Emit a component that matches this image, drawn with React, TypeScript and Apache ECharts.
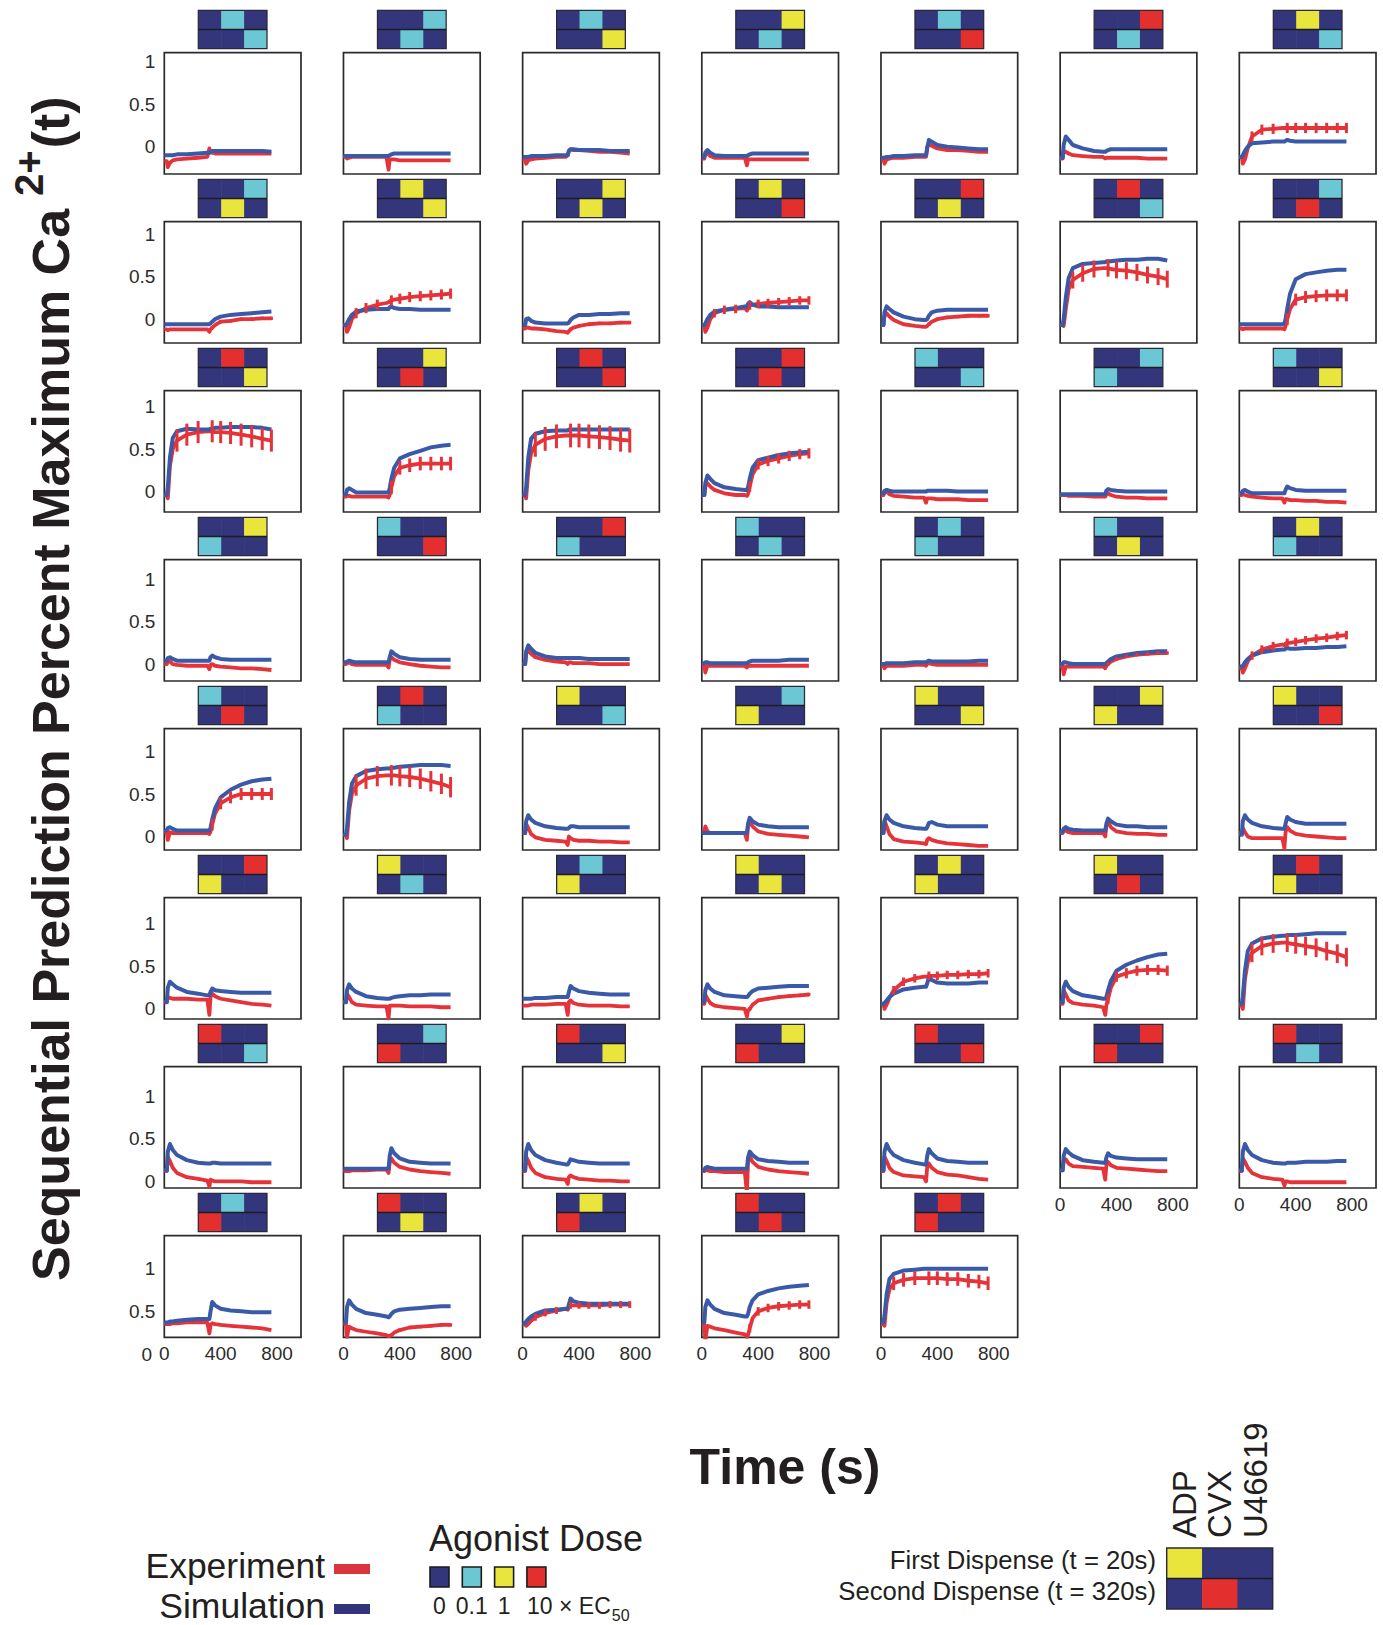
import React, { useEffect, useRef } from "react";
import * as echarts from "echarts";

// ---------------- DATA ----------------
// sample times (s) shared by every trace
const T = [0, 18, 25, 40, 60, 90, 160, 240, 305, 320, 328, 340, 360, 400, 470, 545, 620, 695, 760];
// indices of T where the experimental trace carries an error bar
const ERR_IDX = [5, 6, 7, 11, 13, 14, 15, 16, 17, 18];
const X_TICKS = [0, 400, 800];
const Y_TICKS = [0, 0.5, 1];
const AGONISTS = ["ADP", "CVX", "U46619"];
const DOSE_TEXT = ["0", "0.1", "1"];

// dose level (0: none, 1: 0.1, 2: 1, 3: 10 x EC50) for [ADP, CVX, U46619]
const FIRST_DOSE = [
  [0,1,0],[0,0,1],[0,1,0],[0,0,2],[0,1,0],[0,0,3],[0,2,0],
  [0,0,1],[0,2,0],[0,0,2],[0,2,0],[0,0,3],[0,3,0],[0,0,1],
  [0,3,0],[0,0,2],[0,3,0],[0,0,3],[1,0,0],[0,0,1],[1,0,0],
  [0,0,2],[1,0,0],[0,0,3],[1,0,0],[0,1,0],[1,0,0],[0,2,0],
  [1,0,0],[0,3,0],[2,0,0],[0,0,1],[2,0,0],[0,0,2],[2,0,0],
  [0,0,3],[2,0,0],[0,1,0],[2,0,0],[0,2,0],[2,0,0],[0,3,0],
  [3,0,0],[0,0,1],[3,0,0],[0,0,2],[3,0,0],[0,0,3],[3,0,0],
  [0,1,0],[3,0,0],[0,2,0],[3,0,0],[0,3,0],
];
const SECOND_DOSE = [
  [0,0,1],[0,1,0],[0,0,2],[0,1,0],[0,0,3],[0,1,0],[0,0,1],
  [0,2,0],[0,0,2],[0,2,0],[0,0,3],[0,2,0],[0,0,1],[0,3,0],
  [0,0,2],[0,3,0],[0,0,3],[0,3,0],[0,0,1],[1,0,0],[0,0,2],
  [1,0,0],[0,0,3],[1,0,0],[0,1,0],[1,0,0],[0,2,0],[1,0,0],
  [0,3,0],[1,0,0],[0,0,1],[2,0,0],[0,0,2],[2,0,0],[0,0,3],
  [2,0,0],[0,1,0],[2,0,0],[0,2,0],[2,0,0],[0,3,0],[2,0,0],
  [0,0,1],[3,0,0],[0,0,2],[3,0,0],[0,0,3],[3,0,0],[0,1,0],
  [3,0,0],[0,2,0],[3,0,0],[0,3,0],[3,0,0],
];

const SIM_R1 = [
  [-0.1,-0.1,-0.1,-0.1,-0.1,-0.09,-0.09,-0.08,-0.07,-0.07,-0.06,-0.05,-0.05,-0.05,-0.05,-0.05,-0.05,-0.05,-0.06],
  [-0.11,-0.11,-0.11,-0.11,-0.11,-0.11,-0.11,-0.11,-0.11,-0.11,-0.1,-0.09,-0.08,-0.08,-0.08,-0.08,-0.08,-0.08,-0.08],
  [-0.12,-0.12,-0.12,-0.12,-0.11,-0.11,-0.11,-0.1,-0.1,-0.1,-0.05,-0.03,-0.03,-0.04,-0.04,-0.04,-0.05,-0.05,-0.05],
  [-0.12,-0.12,-0.07,-0.04,-0.07,-0.1,-0.11,-0.11,-0.11,-0.11,-0.1,-0.09,-0.08,-0.08,-0.08,-0.08,-0.08,-0.08,-0.08],
  [-0.13,-0.13,-0.13,-0.12,-0.12,-0.11,-0.11,-0.1,-0.1,-0.1,-0.02,0.08,0.06,0.02,0,-0.01,-0.02,-0.03,-0.03],
  [-0.13,-0.13,0.02,0.12,0.08,0.02,-0.02,-0.05,-0.06,-0.06,-0.05,-0.04,-0.03,-0.03,-0.03,-0.03,-0.03,-0.03,-0.03],
  [-0.12,-0.12,-0.1,-0.05,0,0.04,0.05,0.06,0.06,0.06,0.07,0.08,0.07,0.06,0.06,0.06,0.06,0.06,0.06],
];
const EXP_R1 = [
  [-0.17,-0.17,-0.24,-0.19,-0.16,-0.15,-0.14,-0.13,-0.12,-0.02,-0.07,-0.07,-0.08,-0.08,-0.08,-0.08,-0.08,-0.08,-0.08],
  [-0.12,-0.12,-0.14,-0.13,-0.12,-0.12,-0.12,-0.12,-0.12,-0.27,-0.15,-0.15,-0.15,-0.16,-0.16,-0.16,-0.16,-0.16,-0.16],
  [-0.15,-0.15,-0.2,-0.16,-0.15,-0.14,-0.13,-0.12,-0.12,-0.1,-0.05,-0.03,-0.04,-0.04,-0.05,-0.06,-0.06,-0.07,-0.08],
  [-0.14,-0.14,-0.08,-0.08,-0.11,-0.13,-0.13,-0.13,-0.13,-0.22,-0.15,-0.15,-0.15,-0.15,-0.15,-0.15,-0.15,-0.15,-0.15],
  [-0.14,-0.14,-0.2,-0.15,-0.14,-0.13,-0.13,-0.12,-0.12,-0.12,0,0.03,0.01,-0.02,-0.04,-0.04,-0.05,-0.06,-0.06],
  [-0.14,-0.14,-0.05,-0.06,-0.08,-0.1,-0.11,-0.12,-0.12,-0.14,-0.13,-0.13,-0.13,-0.13,-0.13,-0.13,-0.14,-0.14,-0.14],
  [-0.12,-0.12,-0.2,-0.15,-0.02,0.12,0.2,0.21,0.22,0.22,0.22,0.22,0.22,0.22,0.22,0.22,0.22,0.22,0.22],
];
const SIM_R2 = [
  [-0.06,-0.06,-0.06,-0.06,-0.06,-0.06,-0.06,-0.06,-0.06,-0.06,-0.05,-0.03,0,0.03,0.05,0.06,0.07,0.08,0.09],
  [-0.07,-0.07,-0.05,0,0.05,0.09,0.11,0.12,0.12,0.12,0.14,0.15,0.13,0.12,0.12,0.11,0.11,0.11,0.11],
  [-0.07,-0.07,0,0.01,-0.02,-0.04,-0.05,-0.05,-0.05,-0.05,-0.04,-0.01,0.02,0.05,0.05,0.06,0.06,0.07,0.07],
  [-0.07,-0.07,-0.05,0,0.05,0.09,0.11,0.13,0.15,0.15,0.18,0.2,0.17,0.15,0.15,0.14,0.14,0.14,0.14],
  [-0.07,-0.07,0.08,0.15,0.12,0.08,0.03,0,-0.01,-0.01,0,0.04,0.08,0.1,0.11,0.11,0.11,0.11,0.11],
  [-0.07,-0.07,0,0.25,0.48,0.6,0.65,0.66,0.67,0.67,0.68,0.68,0.68,0.69,0.7,0.7,0.71,0.71,0.69],
  [-0.06,-0.06,-0.06,-0.06,-0.06,-0.06,-0.06,-0.06,-0.06,-0.05,0,0.12,0.3,0.47,0.53,0.55,0.57,0.58,0.58],
];
const EXP_R2 = [
  [-0.12,-0.12,-0.13,-0.12,-0.12,-0.12,-0.12,-0.12,-0.12,-0.15,-0.12,-0.1,-0.07,-0.03,-0.02,0,0,0.01,0.01],
  [-0.07,-0.07,-0.15,-0.1,0,0.07,0.13,0.17,0.19,0.2,0.21,0.22,0.23,0.24,0.26,0.27,0.28,0.29,0.3],
  [-0.11,-0.11,-0.1,-0.1,-0.11,-0.11,-0.12,-0.14,-0.15,-0.16,-0.14,-0.12,-0.1,-0.08,-0.06,-0.05,-0.05,-0.04,-0.04],
  [-0.07,-0.07,-0.15,-0.1,0,0.07,0.11,0.12,0.13,0.1,0.15,0.16,0.17,0.18,0.19,0.2,0.21,0.22,0.22],
  [-0.07,-0.07,0.04,0.07,0.03,-0.01,-0.06,-0.08,-0.09,-0.09,-0.08,-0.06,-0.03,0,0.02,0.03,0.04,0.04,0.04],
  [-0.07,-0.07,-0.08,0.12,0.35,0.46,0.54,0.59,0.6,0.6,0.6,0.6,0.59,0.58,0.57,0.55,0.52,0.5,0.47],
  [-0.11,-0.11,-0.12,-0.11,-0.11,-0.11,-0.11,-0.11,-0.11,-0.12,-0.08,0,0.12,0.23,0.26,0.27,0.28,0.28,0.28],
];
const SIM_R3 = [
  [-0.04,-0.04,0.05,0.4,0.63,0.71,0.74,0.73,0.73,0.73,0.74,0.74,0.75,0.75,0.76,0.76,0.76,0.75,0.73],
  [-0.03,-0.03,0.02,0.04,0.02,-0.01,-0.01,-0.01,-0.01,-0.01,0.04,0.15,0.28,0.39,0.44,0.48,0.52,0.54,0.55],
  [-0.04,-0.04,0.05,0.4,0.62,0.68,0.71,0.72,0.72,0.72,0.73,0.73,0.73,0.73,0.73,0.73,0.73,0.73,0.73],
  [-0.04,-0.04,0.1,0.19,0.15,0.1,0.05,0.03,0.02,0.02,0.05,0.15,0.28,0.37,0.4,0.43,0.45,0.46,0.47],
  [-0.02,-0.02,0.01,0.02,0.01,0,0,0,0,0,0.01,0.01,0.01,0.01,0.01,0,0,0,0],
  [-0.03,-0.03,-0.03,-0.03,-0.03,-0.03,-0.03,-0.03,-0.03,-0.03,0.01,0.03,0.02,0.01,0,0,0,0,0],
  [-0.02,-0.02,0.01,0.02,0,-0.02,-0.02,-0.02,-0.02,-0.02,0.02,0.06,0.04,0.02,0.01,0.01,0.01,0.01,0.01],
];
const EXP_R3 = [
  [-0.04,-0.04,-0.08,0.3,0.5,0.6,0.67,0.7,0.71,0.71,0.71,0.71,0.7,0.7,0.69,0.67,0.65,0.62,0.6],
  [-0.06,-0.06,-0.05,-0.05,-0.06,-0.06,-0.06,-0.06,-0.06,-0.07,-0.04,0.05,0.18,0.28,0.31,0.33,0.33,0.33,0.33],
  [-0.04,-0.04,-0.08,0.25,0.45,0.55,0.62,0.65,0.66,0.66,0.66,0.66,0.66,0.66,0.65,0.64,0.63,0.61,0.6],
  [-0.04,-0.04,0.06,0.1,0.06,0.02,-0.02,-0.04,-0.04,-0.05,-0.03,0.06,0.2,0.32,0.36,0.39,0.42,0.44,0.45],
  [-0.04,-0.04,-0.01,0,-0.03,-0.05,-0.06,-0.07,-0.07,-0.13,-0.08,-0.08,-0.08,-0.09,-0.09,-0.09,-0.1,-0.1,-0.1],
  [-0.04,-0.04,-0.04,-0.04,-0.05,-0.05,-0.05,-0.06,-0.06,-0.06,-0.03,-0.02,-0.04,-0.06,-0.07,-0.07,-0.08,-0.08,-0.08],
  [-0.04,-0.04,-0.03,-0.04,-0.05,-0.06,-0.07,-0.08,-0.08,-0.13,-0.09,-0.09,-0.1,-0.1,-0.11,-0.11,-0.12,-0.12,-0.13],
];
const SIM_R4 = [
  [0.04,0.04,0.07,0.08,0.06,0.04,0.04,0.04,0.04,0.04,0.08,0.1,0.08,0.06,0.05,0.05,0.05,0.05,0.05],
  [0.02,0.02,0.03,0.04,0.03,0.02,0.02,0.02,0.02,0.02,0.08,0.15,0.12,0.08,0.06,0.05,0.05,0.05,0.05],
  [0,0,0.15,0.22,0.18,0.13,0.09,0.07,0.07,0.07,0.07,0.07,0.07,0.07,0.06,0.06,0.06,0.06,0.06],
  [0.01,0.01,0.02,0.02,0.01,0.01,0.01,0.01,0.01,0.01,0.02,0.03,0.04,0.04,0.04,0.04,0.05,0.05,0.05],
  [0,0,0,0.01,0.01,0.01,0.01,0.02,0.02,0.02,0.03,0.04,0.03,0.03,0.03,0.03,0.03,0.04,0.04],
  [0,0,0.02,0.02,0.01,0,0,0,0,0,0.01,0.03,0.06,0.09,0.11,0.13,0.14,0.15,0.15],
  [-0.03,-0.03,-0.02,0.02,0.06,0.1,0.14,0.16,0.17,0.17,0.18,0.19,0.18,0.18,0.19,0.19,0.2,0.2,0.21],
];
const EXP_R4 = [
  [0,0,0.03,0.03,0,-0.01,-0.02,-0.02,-0.02,-0.06,-0.01,0,-0.02,-0.03,-0.04,-0.05,-0.05,-0.06,-0.07],
  [0,0,0.01,0.02,0,-0.01,-0.01,-0.01,-0.01,-0.04,0.05,0.08,0.05,0.02,0,-0.02,-0.03,-0.04,-0.04],
  [0,0,0.12,0.16,0.12,0.08,0.05,0.03,0.02,0,0.02,0.02,0.01,0.01,0.01,0,0,0,0],
  [-0.02,-0.02,-0.1,-0.02,-0.02,-0.02,-0.02,-0.02,-0.02,-0.04,-0.02,-0.02,-0.02,-0.02,-0.02,-0.02,-0.02,-0.02,-0.02],
  [-0.02,-0.02,-0.05,-0.02,-0.02,-0.02,-0.02,-0.01,-0.01,-0.02,0,0.01,0,-0.01,-0.01,-0.01,-0.01,-0.01,-0.01],
  [-0.03,-0.03,-0.12,-0.03,-0.03,-0.03,-0.03,-0.03,-0.03,-0.05,-0.02,0,0.03,0.06,0.09,0.11,0.12,0.13,0.13],
  [-0.05,-0.05,-0.1,-0.05,0.03,0.1,0.17,0.21,0.23,0.22,0.24,0.25,0.25,0.26,0.28,0.3,0.31,0.33,0.34],
];
const SIM_R5 = [
  [0.07,0.07,0.1,0.11,0.09,0.07,0.07,0.07,0.07,0.07,0.1,0.2,0.33,0.46,0.55,0.61,0.65,0.67,0.68],
  [0.02,0.02,0.1,0.4,0.62,0.71,0.77,0.79,0.8,0.8,0.8,0.81,0.81,0.82,0.83,0.84,0.84,0.84,0.83],
  [0.04,0.04,0.18,0.25,0.2,0.16,0.12,0.1,0.09,0.09,0.1,0.12,0.12,0.11,0.11,0.11,0.11,0.11,0.11],
  [0.04,0.04,0.04,0.04,0.04,0.04,0.04,0.04,0.04,0.04,0.15,0.22,0.18,0.14,0.12,0.11,0.11,0.11,0.11],
  [0.04,0.04,0.18,0.25,0.2,0.16,0.12,0.1,0.09,0.09,0.11,0.16,0.17,0.14,0.12,0.12,0.12,0.12,0.12],
  [0.05,0.05,0.09,0.11,0.09,0.08,0.07,0.07,0.07,0.07,0.15,0.21,0.18,0.14,0.12,0.12,0.11,0.11,0.11],
  [0.02,0.02,0.18,0.25,0.2,0.16,0.12,0.1,0.09,0.09,0.15,0.23,0.2,0.17,0.15,0.15,0.15,0.15,0.15],
];
const EXP_R5 = [
  [0.05,0.05,-0.04,0.05,0.04,0.04,0.04,0.04,0.04,0.03,0.06,0.14,0.27,0.39,0.46,0.5,0.5,0.5,0.5],
  [0.02,0.02,-0.02,0.3,0.5,0.6,0.68,0.71,0.72,0.72,0.72,0.72,0.72,0.71,0.7,0.68,0.65,0.62,0.58],
  [0.04,0.04,0.15,0.1,0.03,-0.01,-0.04,-0.05,-0.06,-0.1,0,-0.02,-0.04,-0.05,-0.05,-0.06,-0.06,-0.07,-0.07],
  [0.05,0.05,0.12,0.06,0.04,0.04,0.04,0.04,0.04,-0.04,0.12,0.17,0.12,0.06,0.03,0.02,0.01,0,-0.01],
  [0.05,0.05,0.19,0.12,0.03,-0.03,-0.06,-0.07,-0.08,-0.09,-0.04,-0.02,-0.04,-0.06,-0.08,-0.09,-0.1,-0.11,-0.11],
  [0.04,0.04,0.09,0.07,0.05,0.04,0.04,0.04,0.04,0,0.12,0.17,0.11,0.06,0.04,0.03,0.03,0.02,0.02],
  [0.04,0.04,0.1,0.05,0,-0.02,-0.02,-0.02,-0.02,-0.14,0.05,0.11,0.07,0.03,0.01,0,-0.01,-0.02,-0.02],
];
const SIM_R6 = [
  [0.08,0.08,0.25,0.32,0.29,0.25,0.2,0.18,0.16,0.16,0.2,0.24,0.22,0.21,0.2,0.19,0.19,0.19,0.19],
  [0.08,0.08,0.22,0.29,0.24,0.2,0.15,0.13,0.12,0.12,0.12,0.13,0.14,0.15,0.16,0.16,0.17,0.17,0.17],
  [0.12,0.12,0.12,0.12,0.12,0.13,0.13,0.14,0.14,0.14,0.2,0.27,0.24,0.21,0.19,0.18,0.17,0.17,0.17],
  [0.08,0.08,0.22,0.29,0.24,0.2,0.16,0.15,0.14,0.14,0.15,0.18,0.21,0.24,0.25,0.26,0.27,0.27,0.27],
  [0.06,0.06,0.07,0.1,0.14,0.18,0.23,0.25,0.26,0.26,0.3,0.37,0.34,0.31,0.3,0.3,0.3,0.31,0.31],
  [0.08,0.08,0.25,0.32,0.26,0.21,0.16,0.14,0.12,0.12,0.14,0.22,0.33,0.45,0.52,0.57,0.61,0.64,0.65],
  [0.06,0.06,0.15,0.45,0.68,0.77,0.83,0.85,0.86,0.86,0.86,0.87,0.87,0.87,0.88,0.89,0.89,0.89,0.89],
];
const EXP_R6 = [
  [0.08,0.08,0.14,0.13,0.12,0.12,0.12,0.11,0.11,-0.07,0.14,0.18,0.15,0.12,0.1,0.08,0.06,0.05,0.04],
  [0.08,0.08,0.18,0.14,0.08,0.05,0.04,0.03,0.03,-0.11,0.04,0.04,0.04,0.04,0.03,0.03,0.03,0.02,0.02],
  [0.04,0.04,0.04,0.04,0.05,0.05,0.05,0.06,0.06,-0.07,0.08,0.1,0.07,0.05,0.04,0.04,0.04,0.03,0.03],
  [0.06,0.06,0.17,0.12,0.07,0.04,0.02,0.01,0,-0.09,-0.02,0,0.05,0.1,0.12,0.14,0.15,0.16,0.17],
  [0.06,0.06,0,0.05,0.13,0.22,0.32,0.36,0.38,0.38,0.38,0.39,0.39,0.39,0.4,0.4,0.41,0.41,0.42],
  [0.06,0.06,0.22,0.17,0.1,0.07,0.05,0.04,0.02,-0.07,0.04,0.12,0.25,0.38,0.42,0.45,0.46,0.46,0.45],
  [0.04,0.04,0,0.35,0.55,0.66,0.74,0.77,0.78,0.78,0.78,0.78,0.77,0.76,0.74,0.72,0.68,0.65,0.61],
];
const SIM_R7 = [
  [0.13,0.13,0.35,0.44,0.37,0.31,0.25,0.22,0.21,0.21,0.21,0.22,0.22,0.21,0.21,0.21,0.21,0.21,0.21],
  [0.15,0.15,0.15,0.15,0.15,0.15,0.15,0.15,0.15,0.15,0.3,0.39,0.33,0.27,0.23,0.22,0.21,0.21,0.21],
  [0.13,0.13,0.35,0.44,0.37,0.31,0.25,0.22,0.2,0.2,0.22,0.26,0.25,0.23,0.22,0.21,0.21,0.21,0.21],
  [0.13,0.13,0.16,0.17,0.16,0.15,0.15,0.15,0.15,0.15,0.28,0.35,0.31,0.26,0.24,0.23,0.22,0.22,0.22],
  [0.13,0.13,0.35,0.44,0.37,0.31,0.25,0.22,0.2,0.2,0.3,0.38,0.33,0.27,0.24,0.23,0.22,0.22,0.22],
  [0.13,0.13,0.3,0.38,0.34,0.3,0.25,0.23,0.22,0.22,0.28,0.33,0.3,0.28,0.27,0.26,0.26,0.26,0.26],
  [0.13,0.13,0.35,0.44,0.37,0.31,0.25,0.22,0.21,0.21,0.21,0.22,0.22,0.22,0.23,0.23,0.23,0.24,0.24],
];
const EXP_R7 = [
  [0.12,0.12,0.29,0.24,0.16,0.1,0.05,0.03,0.01,-0.06,0.02,0.01,0,0,0,0,-0.01,-0.01,-0.01],
  [0.12,0.12,0.12,0.12,0.13,0.13,0.13,0.14,0.14,0.1,0.22,0.27,0.22,0.17,0.14,0.12,0.11,0.1,0.09],
  [0.12,0.12,0.29,0.24,0.16,0.1,0.05,0.03,0.02,-0.03,0.05,0.07,0.05,0.03,0.02,0.01,0.01,0,0],
  [0.12,0.12,0.14,0.13,0.12,0.12,0.11,0.11,0.11,-0.13,0.22,0.29,0.23,0.17,0.14,0.12,0.11,0.1,0.09],
  [0.12,0.12,0.29,0.24,0.16,0.11,0.07,0.06,0.05,0,0.17,0.21,0.16,0.11,0.08,0.07,0.05,0.03,0.02],
  [0.13,0.13,0.24,0.26,0.21,0.18,0.17,0.16,0.15,0.02,0.19,0.23,0.19,0.16,0.15,0.14,0.13,0.12,0.12],
  [0.12,0.12,0.27,0.23,0.16,0.1,0.05,0.03,0.02,-0.05,0,0,-0.01,-0.01,-0.01,-0.01,-0.01,-0.01,-0.01],
];
const SIM_R8 = [
  [0.37,0.37,0.37,0.38,0.38,0.39,0.4,0.41,0.41,0.41,0.5,0.61,0.57,0.53,0.51,0.5,0.49,0.49,0.49],
  [0.37,0.37,0.55,0.63,0.58,0.53,0.48,0.46,0.44,0.43,0.44,0.47,0.5,0.52,0.53,0.54,0.55,0.56,0.56],
  [0.36,0.36,0.38,0.41,0.44,0.47,0.51,0.52,0.53,0.53,0.58,0.65,0.62,0.6,0.59,0.59,0.59,0.59,0.59],
  [0.37,0.37,0.55,0.63,0.58,0.53,0.48,0.46,0.44,0.44,0.47,0.55,0.63,0.7,0.74,0.77,0.79,0.8,0.81],
  [0.37,0.37,0.45,0.7,0.88,0.94,0.98,0.99,1,1,1,1,1,1,1,1,1,1,1],
];
const EXP_R8 = [
  [0.35,0.35,0.35,0.35,0.36,0.36,0.37,0.37,0.37,0.24,0.34,0.36,0.35,0.34,0.33,0.32,0.31,0.3,0.28],
  [0.35,0.35,0.2,0.32,0.3,0.28,0.26,0.24,0.22,0.21,0.21,0.22,0.25,0.28,0.31,0.32,0.33,0.34,0.34],
  [0.35,0.35,0.33,0.35,0.39,0.43,0.48,0.51,0.53,0.52,0.55,0.57,0.57,0.57,0.57,0.57,0.58,0.58,0.58],
  [0.35,0.35,0.16,0.33,0.32,0.3,0.28,0.25,0.23,0.2,0.22,0.3,0.42,0.5,0.54,0.56,0.57,0.58,0.58],
  [0.35,0.35,0.33,0.6,0.76,0.83,0.87,0.89,0.89,0.89,0.89,0.89,0.89,0.89,0.88,0.88,0.86,0.85,0.83],
];
// half-height of the experimental error bars, one per panel
const ERR = [
  0,0,0,0,0,0,0.06,
  0.02,0.06,0.02,0.05,0.02,0.1,0.07,
  0.13,0.08,0.14,0.06,0,0,0,
  0,0,0,0,0,0.02,0.05,
  0.07,0.12,0,0,0,0,0,
  0,0,0,0.02,0.05,0.06,0.11,
  0,0,0,0,0,0,0,
  0,0.02,0.04,0.05,0.08,
];
// time (s) from which the error bars are visible, one per panel
const ERR_FROM = [
  0,0,0,0,0,0,0,
  320,0,320,0,320,0,320,
  0,320,0,320,0,0,0,
  0,0,0,0,0,320,0,
  320,0,0,0,0,0,0,
  0,0,0,320,0,320,0,
  0,0,0,0,0,0,0,
  0,320,0,320,0,
];

// ---------------- STYLE / LAYOUT ----------------
const FONT = '"Liberation Sans", Arial, Helvetica, sans-serif';
const TEXT = "#231f20";
const EXP_COLOR = "#e5333a";
const SIM_COLOR = "#3a5aa8";
const DOSE_COLORS = ["#33367b", "#6cc7d4", "#e9e53c", "#e3302f"];
const PANEL_L0 = 164.3, COL_STEP = 179.17, PANEL_W = 136.7;
const PANEL_T0 = 52.7, ROW_STEP = 169, PANEL_H = 121.3, LAST_H = 101.7;
const PX_UNIT = 85, LABEL_OFF0 = 9, LABEL_DRIFT = 3.45;
const X_MAX = 970;
const BLOCK_W = 68.7, BLOCK_H = 38.3, BLOCK_GAP = 4.1;

function measure(text: string, font: string): number {
  const ctx = document.createElement("canvas").getContext("2d");
  if (!ctx) return text.length * 20;
  ctx.font = font;
  return ctx.measureText(text).width;
}

function doseBlock(x: number, y: number, w: number, h: number, first: number[], second: number[], lw: number) {
  const els: any[] = [];
  const cw = w / 3, ch = h / 2;
  [first, second].forEach((rowDose, r) => {
    rowDose.forEach((lvl, c) => {
      els.push({
        type: "rect", silent: true, z: 10,
        shape: { x: x + c * cw, y: y + r * ch, width: cw + (c < 2 ? 0.6 : 0), height: ch },
        style: { fill: DOSE_COLORS[lvl] },
      });
    });
  });
  els.push({ type: "rect", silent: true, z: 11, shape: { x, y, width: w, height: h }, style: { fill: "none", stroke: "#2a2a3a", lineWidth: lw * 0.9 } });
  els.push({ type: "line", silent: true, z: 11, shape: { x1: x, y1: y + ch, x2: x + w, y2: y + ch }, style: { stroke: "#1c1c24", lineWidth: lw } });
  return els;
}

function buildOption() {
  const SIM = [...SIM_R1, ...SIM_R2, ...SIM_R3, ...SIM_R4, ...SIM_R5, ...SIM_R6, ...SIM_R7, ...SIM_R8];
  const EXP = [...EXP_R1, ...EXP_R2, ...EXP_R3, ...EXP_R4, ...EXP_R5, ...EXP_R6, ...EXP_R7, ...EXP_R8];
  const grid: any[] = [], xAxis: any[] = [], yAxis: any[] = [], series: any[] = [], graphic: any[] = [];
  const tickLabel = { fontSize: 19, color: "#2b2b2b", fontFamily: FONT };

  const renderErr = (_params: any, api: any) => {
    const t = api.value(0), y = api.value(1), e = api.value(2);
    const a = api.coord([t, y - e]);
    const b = api.coord([t, y + e]);
    return { type: "line", shape: { x1: a[0], y1: a[1], x2: b[0], y2: b[1] }, style: { stroke: EXP_COLOR, lineWidth: 3 } };
  };

  for (let p = 0; p < SIM.length; p++) {
    const row = Math.floor(p / 7), col = p % 7;
    const left = PANEL_L0 + col * COL_STEP;
    const top = PANEL_T0 + row * ROW_STEP;
    const h = row === 7 ? LAST_H : PANEL_H;
    const yMax = 1 + (LABEL_OFF0 + LABEL_DRIFT * row) / PX_UNIT;
    const yMin = yMax - h / PX_UNIT;
    const bottomRow = row === 7 || (row === 6 && col >= 5);
    grid.push({
      left, top, width: PANEL_W, height: h, show: true, borderColor: "#2b2b2b", borderWidth: 1.7,
      backgroundColor: "#fff", containLabel: false, outerBoundsMode: "none",
    });
    xAxis.push({
      type: "value", gridIndex: p, min: 0, max: X_MAX,
      axisLine: { show: false }, axisTick: { show: false }, splitLine: { show: false },
      axisLabel: { show: bottomRow, customValues: X_TICKS, margin: 7, ...tickLabel, formatter: (v: number) => String(v) },
    });
    yAxis.push({
      type: "value", gridIndex: p, min: yMin, max: yMax,
      axisLine: { show: false }, axisTick: { show: false }, splitLine: { show: false },
      axisLabel: {
        show: col === 0, customValues: Y_TICKS.filter((v) => v >= yMin && v <= yMax), margin: 9, ...tickLabel,
        formatter: (v: number) => String(v),
      },
    });
    series.push({
      type: "line", xAxisIndex: p, yAxisIndex: p, silent: true, z: 2,
      data: T.map((t, i) => [t, EXP[p][i]]),
      showSymbol: false, symbol: "none", lineStyle: { color: EXP_COLOR, width: 3.8, join: "round" },
    });
    series.push({
      type: "line", xAxisIndex: p, yAxisIndex: p, silent: true, z: 3,
      data: T.map((t, i) => [t, SIM[p][i]]),
      showSymbol: false, symbol: "none", lineStyle: { color: SIM_COLOR, width: 4, join: "round" },
    });
    if (ERR[p] > 0) {
      series.push({
        type: "custom", xAxisIndex: p, yAxisIndex: p, silent: true, z: 4,
        data: ERR_IDX.filter((i) => T[i] >= ERR_FROM[p]).map((i) => [T[i], EXP[p][i], ERR[p]]),
        encode: { x: 0, y: 1 }, renderItem: renderErr,
      });
    }
    // dose indicator above the panel
    graphic.push(...doseBlock(left + (PANEL_W - BLOCK_W) / 2, top - BLOCK_GAP - BLOCK_H, BLOCK_W, BLOCK_H, FIRST_DOSE[p], SECOND_DOSE[p], 1.4));
    if (row === 7 && col === 0) {
      graphic.push({ type: "text", silent: true, x: 152, y: top + h + 16.8, style: { text: "0", align: "right", verticalAlign: "middle", fill: "#2b2b2b", fontSize: 19, fontFamily: FONT } });
    }
  }

  // y-axis title (rotated) with superscript
  const mainTxt = "Sequential Prediction Percent Maximum Ca";
  const wMain = measure(mainTxt, `bold 52px ${FONT}`);
  const wSup = measure("2+", `bold 40px ${FONT}`);
  const y0 = 1281;
  graphic.push({ type: "text", silent: true, x: 51, y: y0, rotation: Math.PI / 2, style: { text: mainTxt, fontSize: 52, fontWeight: "bold", fontFamily: FONT, fill: TEXT, align: "left", verticalAlign: "middle" } });
  const ySup = y0 - wMain - 13;
  graphic.push({ type: "text", silent: true, x: 29, y: ySup, rotation: Math.PI / 2, style: { text: "2+", fontSize: 40, fontWeight: "bold", fontFamily: FONT, fill: TEXT, align: "left", verticalAlign: "middle" } });
  graphic.push({ type: "text", silent: true, x: 51, y: ySup - wSup - 2, rotation: Math.PI / 2, style: { text: "(t)", fontSize: 52, fontWeight: "bold", fontFamily: FONT, fill: TEXT, align: "left", verticalAlign: "middle" } });

  // x-axis title
  graphic.push({ type: "text", silent: true, x: 785, y: 1467, style: { text: "Time (s)", fontSize: 50, fontWeight: "bold", fontFamily: FONT, fill: TEXT, align: "center", verticalAlign: "middle" } });

  // legend: experiment / simulation
  graphic.push({ type: "text", silent: true, x: 325, y: 1566, style: { text: "Experiment", fontSize: 35.5, fontFamily: FONT, fill: TEXT, align: "right", verticalAlign: "middle" } });
  graphic.push({ type: "text", silent: true, x: 325, y: 1606, style: { text: "Simulation", fontSize: 35.5, fontFamily: FONT, fill: TEXT, align: "right", verticalAlign: "middle" } });
  graphic.push({ type: "rect", silent: true, shape: { x: 334, y: 1564, width: 36, height: 10 }, style: { fill: "#d8363c" } });
  graphic.push({ type: "rect", silent: true, shape: { x: 334, y: 1604, width: 36, height: 10 }, style: { fill: "#33357a" } });

  // legend: agonist dose
  graphic.push({ type: "text", silent: true, x: 429, y: 1538, style: { text: "Agonist Dose", fontSize: 36, fontFamily: FONT, fill: TEXT, align: "left", verticalAlign: "middle" } });
  DOSE_COLORS.forEach((c, i) => {
    graphic.push({ type: "rect", silent: true, shape: { x: 430 + i * 32.3, y: 1567, width: 19, height: 20 }, style: { fill: c, stroke: "#1a1a1a", lineWidth: 1.6 } });
  });
  DOSE_TEXT.forEach((t, i) => {
    graphic.push({ type: "text", silent: true, x: 439.5 + i * 32.3, y: 1606, style: { text: t, fontSize: 23, fontFamily: FONT, fill: TEXT, align: "center", verticalAlign: "middle" } });
  });
  const ecTxt = "10 × EC";
  const wEc = measure(ecTxt, `23px ${FONT}`);
  graphic.push({ type: "text", silent: true, x: 527, y: 1606, style: { text: ecTxt, fontSize: 23, fontFamily: FONT, fill: TEXT, align: "left", verticalAlign: "middle" } });
  graphic.push({ type: "text", silent: true, x: 527 + wEc + 1, y: 1615, style: { text: "50", fontSize: 16, fontFamily: FONT, fill: TEXT, align: "left", verticalAlign: "middle" } });

  // legend: dispense key
  graphic.push(...doseBlock(1166.7, 1548, 106, 61, [2, 0, 0], [0, 3, 0], 1.6));
  graphic.push({ type: "text", silent: true, x: 1156, y: 1560, style: { text: "First Dispense (t = 20s)", fontSize: 25.7, fontFamily: FONT, fill: TEXT, align: "right", verticalAlign: "middle" } });
  graphic.push({ type: "text", silent: true, x: 1156, y: 1591, style: { text: "Second Dispense (t = 320s)", fontSize: 25.7, fontFamily: FONT, fill: TEXT, align: "right", verticalAlign: "middle" } });
  AGONISTS.forEach((a, i) => {
    graphic.push({ type: "text", silent: true, x: 1184 + i * 35.5, y: 1538, rotation: Math.PI / 2, style: { text: a, fontSize: 33, fontFamily: FONT, fill: TEXT, align: "left", verticalAlign: "middle" } });
  });

  return { animation: false, backgroundColor: "#ffffff", grid, xAxis, yAxis, series, graphic };
}

export default function App() {
  const ref = useRef<HTMLDivElement>(null);
  useEffect(() => {
    document.body.style.margin = "0";
    if (!ref.current) return;
    const chart = echarts.init(ref.current, null, { renderer: "svg" });
    chart.setOption(buildOption());
    return () => chart.dispose();
  }, []);
  return <div ref={ref} style={{ width: 1383, height: 1625, background: "#fff" }} />;
}
